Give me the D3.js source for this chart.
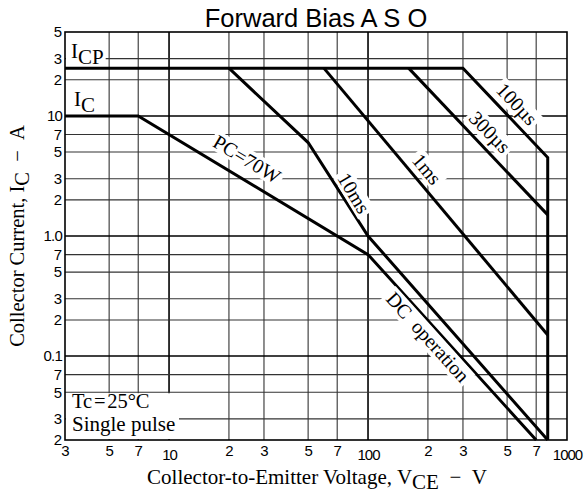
<!DOCTYPE html>
<html><head><meta charset="utf-8">
<script src="https://cdn.jsdelivr.net/npm/d3@7"></script>
<style>body{margin:0;background:#fff}</style>
</head><body>
<svg id="chart" width="588" height="495"></svg>
<script>
// ---- data ----
const xTicks = [3,5,7,10,20,30,50,70,100,200,300,500,700,1000];
const xTickLabels = ["3","5","7","10","2","3","5","7","100","2","3","5","7","1000"];
const yTicks = [0.02,0.03,0.05,0.07,0.1,0.2,0.3,0.5,0.7,1,2,3,5,7,10,20,30,50];
const yTickLabels = ["2","3","5","7","0.1","2","3","5","7","1.0","2","3","5","7","10","2","3","5"];
const curveICP100us = [[3,25],[300,25],[800,4.5],[800,0.02]];
const curve300us = [[160,25],[800,1.5]];
const curve1ms = [[60,25],[800,0.15]];
const curve10ms = [[20,25],[50,6],[100,1.0],[800,0.02]];
const curveDC = [[3,10],[7,10],[100,0.7],[700,0.02]];
const curveLabels = ["100µs","300µs","1ms","10ms","PC=70W","DC\u00a0\u00a0operation"];

// ---- layout ----
const L = 65, R = 567, T = 32, B = 440;
const serif = "'Liberation Serif','Times New Roman',serif";
const sans = "'Liberation Sans',Arial,sans-serif";
const labelLayout = [
  {x:517, y:104, a:47},
  {x:490, y:132, a:46},
  {x:427, y:169, a:50},
  {x:354, y:193, a:59},
  {x:247, y:159, a:31},
  {x:428, y:337, a:48}
];

const svg = d3.select("#chart");
const x = d3.scaleLog().domain([3,1000]).range([L,R]);
const y = d3.scaleLog().domain([0.02,50]).range([B,T]);
const isMajorX = v => v===10 || v===100;
const isMajorY = v => Math.abs(v-0.1)<1e-9 || v===1 || v===10;

// grid
const g = svg.append("g");
g.selectAll("line.vx").data(xTicks.filter(v=>v>3 && v<1000)).enter().append("line")
  .attr("x1",d=>x(d)).attr("x2",d=>x(d)).attr("y1",T).attr("y2",B)
  .attr("stroke",d=>isMajorX(d)?"#000":"#333").attr("stroke-width",d=>isMajorX(d)?1.6:1.1);
g.selectAll("line.hy").data(yTicks.filter(v=>v>0.02 && v<50)).enter().append("line")
  .attr("y1",d=>y(d)).attr("y2",d=>y(d)).attr("x1",L).attr("x2",R)
  .attr("stroke",d=>isMajorY(d)?"#000":"#333").attr("stroke-width",d=>isMajorY(d)?1.6:1.1);

// annotation box (white, hides grid)
svg.append("rect").attr("x",L+1).attr("y",y(0.05)+1).attr("width",113).attr("height",B-y(0.05)-2).attr("fill","#fff");
svg.append("text").attr("x",72).attr("y",408).attr("font-family",serif).attr("font-size",20.5)
  .text("Tc\u200a=\u200a25°C");
svg.append("text").attr("x",72).attr("y",431).attr("font-family",serif).attr("font-size",21)
  .text("Single pulse");

// ICP / IC labels
function subLabel(px, py, main, sub, bg){
  const t = svg.append("text").attr("x",px).attr("y",py).attr("font-family",serif).attr("font-size",21);
  t.append("tspan").text(main);
  t.append("tspan").attr("dy",6).text(sub);
  if(bg){
    const bb = t.node().getBBox();
    svg.insert("rect","text").attr("x",L+1).attr("y",bb.y).attr("width",bb.x+bb.width+2-(L+1)).attr("height",bb.height-2).attr("fill","#fff");
  }
}
subLabel(71, 58, "I", "CP", true);
subLabel(74, 106, "I", "C", false);

// curve label backgrounds + texts
const labelGroups = curveLabels.map((txt,i)=>{
  const lay = labelLayout[i];
  const gg = svg.append("g").attr("transform",`translate(${lay.x},${lay.y}) rotate(${lay.a})`);
  const bgr = gg.append("rect").attr("fill","#fff");
  const t = gg.append("text").attr("text-anchor","middle").attr("dy","0.35em")
    .attr("font-family",serif).attr("font-size",20).text(txt);
  const bb = t.node().getBBox();
  bgr.attr("x",bb.x-3).attr("y",bb.y+1).attr("width",bb.width+6).attr("height",bb.height-2);
  return gg;
});

// curves
const line = d3.line().x(d=>x(d[0])).y(d=>y(d[1]));
const cg = svg.append("g");
[curveICP100us, curve300us, curve1ms, curve10ms, curveDC].forEach(c=>{
  cg.append("path").attr("d",line(c)).attr("fill","none").attr("stroke","#000")
    .attr("stroke-width",3).attr("stroke-linejoin","miter");
});
labelGroups.forEach(gg=>gg.raise());

// frame
svg.append("rect").attr("x",L).attr("y",T).attr("width",R-L).attr("height",B-T)
  .attr("fill","none").attr("stroke","#000").attr("stroke-width",1.6);

// axes (labels only)
const xAxis = d3.axisBottom(x).tickValues(xTicks).tickSize(0)
  .tickFormat((d,i)=>xTickLabels[i]);
const xa = svg.append("g").attr("transform",`translate(0,${B})`).call(xAxis);
xa.select(".domain").remove();
xa.selectAll("text").attr("font-family",sans).attr("font-size",15).attr("fill","#000")
  .attr("dy",(d,i)=>xTickLabels[i].length>1?"1.12em":"0.86em")
  .attr("letter-spacing",(d,i)=>xTickLabels[i].length>1?-1:0);

const yAxis = d3.axisLeft(y).tickValues(yTicks).tickSize(0).tickPadding(3)
  .tickFormat((d,i)=>yTickLabels[i]);
const ya = svg.append("g").attr("transform",`translate(${L},0)`).call(yAxis);
ya.select(".domain").remove();
ya.selectAll("text").attr("font-family",sans).attr("font-size",15).attr("fill","#000")
  .attr("letter-spacing",(d,i)=>yTickLabels[i].length>1?-0.8:0);

// title
svg.append("text").attr("x",316).attr("y",27).attr("text-anchor","middle")
  .attr("font-family",sans).attr("font-size",25.5).text("Forward Bias A S O");

// x axis title
const xt = svg.append("text").attr("x",317).attr("y",484).attr("text-anchor","middle")
  .attr("font-family",serif).attr("font-size",21);
xt.append("tspan").text("Collector-to-Emitter Voltage, V");
xt.append("tspan").attr("dy",5).text("CE");
xt.append("tspan").attr("dy",-5).text("\u00a0\u00a0\u2212\u00a0\u00a0V");

// y axis title
const yt = svg.append("text").attr("transform",`translate(24,236) rotate(-90)`).attr("text-anchor","middle")
  .attr("font-family",serif).attr("font-size",20.5);
yt.append("tspan").text("Collector Current, I");
yt.append("tspan").attr("dy",5).text("C");
yt.append("tspan").attr("dy",-5).text("\u00a0\u00a0\u2212\u00a0\u00a0A");
</script>
</body></html>
